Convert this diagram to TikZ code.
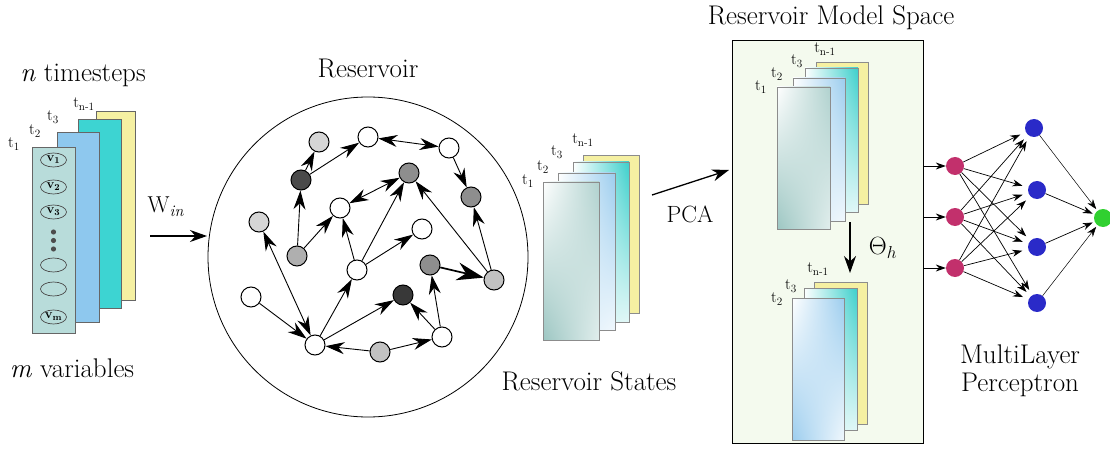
\documentclass[tikz,border=0pt]{standalone}
\usetikzlibrary{arrows.meta,shapes.geometric,shadings}

\definecolor{frontgray}{HTML}{B8DCDA}
\definecolor{skyblue}{HTML}{8EC8EE}
\definecolor{turq}{HTML}{3DD4D2}
\definecolor{paleyel}{HTML}{F5F0A2}
\definecolor{tealgray}{HTML}{9CC6C2}
\definecolor{softblue}{HTML}{9CCDEE}
\definecolor{softturq}{HTML}{3CCFCB}
\definecolor{boxgreen}{HTML}{F4FAEE}
\definecolor{nodedark}{HTML}{4A4A4A}
\definecolor{nodemid}{HTML}{8E8E8E}
\definecolor{nodelight}{HTML}{D6D6D6}
\definecolor{nodesoft}{HTML}{C2C2C2}
\definecolor{inmag}{HTML}{C2306C}
\definecolor{hidblue}{HTML}{2A2AC8}
\definecolor{outgreen}{HTML}{30D030}

\begin{document}
\begin{tikzpicture}[x=1pt,y=-1pt,
  big/.style={font=\fontsize{27}{32}\selectfont, inner sep=0},
  tlab/.style={font=\fontsize{16}{18}\selectfont, inner sep=0},
  sheet/.style={draw=black!60, line width=0.8pt},
  msheet/.style={draw=black!45, line width=0.8pt},
  varell/.style={ellipse, draw=black!70, line width=0.7pt, minimum width=26pt, minimum height=14pt, inner sep=0,
    font=\fontsize{13}{14}\selectfont\bfseries},
  rn/.style={circle, draw=black, line width=1pt, minimum size=20pt, inner sep=0},
  rarr/.style={line width=0.9pt, -{Stealth[length=19pt,width=12pt]}},
  rboth/.style={line width=0.9pt, {Stealth[length=19pt,width=12pt]}-{Stealth[length=19pt,width=12pt]}},
  rbold/.style={line width=1.7pt, -{Stealth[length=27pt,width=18pt]}},
  mainarr/.style={line width=1.3pt, -{Stealth[length=17pt,width=12pt]}},
  neuron/.style={circle, minimum size=18pt, inner sep=0},
  narr/.style={line width=0.7pt, -{Stealth[length=10pt,width=7pt]}, shorten >=2pt},
  nthin/.style={line width=0.5pt, -{Stealth[length=10pt,width=7pt]}, shorten >=2pt}
]
\useasboundingbox (0,0) rectangle (1110,449);

% ---------- input time series stack ----------
\filldraw[sheet, fill=paleyel] (96,111) rectangle (135,300);
\filldraw[sheet, fill=turq] (78,119) rectangle (121,308);
\filldraw[sheet, fill=skyblue] (57,132) rectangle (99,322);
\filldraw[sheet, fill=frontgray] (32,147) rectangle (75,333);
\node[tlab] (lt1) at (14,144) {t\textsubscript{1}};
\node[tlab] (lt2) at (35,131) {t\textsubscript{2}};
\node[tlab] (lt3) at (53,117) {t\textsubscript{3}};
\node[tlab] (ltn) at (84,104) {t\textsubscript{n-1}};
\node[varell] (v1) at (53.5,160) {v\textsubscript{1}};
\node[varell] (v2) at (53.5,187) {v\textsubscript{2}};
\node[varell] (v3) at (53.5,212) {v\textsubscript{3}};
\fill[black!70] (53.5,232) circle (2.6) (53.5,240.5) circle (2.6) (53.5,249) circle (2.6);
\node[varell] (v5) at (53.5,265) {};
\node[varell] (v6) at (53.5,289) {};
\node[varell] (vm) at (53.5,317) {v\textsubscript{m}};
\node[big] (ntime) at (83,75) {\textit{n} timesteps};
\node[big] (mvar) at (72,368) {\textit{m} variables};

% ---------- input weights ----------
\coordinate (winA) at (150,236);
\coordinate (winB) at (207,236);
\draw[mainarr] (winA) -- (winB);
\node[font=\fontsize{23}{27}\selectfont, inner sep=0] (win) at (166,207) {W\textsubscript{\textit{in}}};

% ---------- reservoir ----------
\node[big] (restitle) at (368,68) {Reservoir};
\draw[line width=0.8pt] (368,257) circle (160);
\node[rn, fill=nodelight] (A) at (319,142) {};
\node[rn, fill=white] (B) at (368,137) {};
\node[rn, fill=white] (C) at (449,148) {};
\node[rn, fill=nodedark] (D) at (301,180) {};
\node[rn, fill=nodemid] (E) at (409,173) {};
\node[rn, fill=nodemid] (F) at (471,197) {};
\node[rn, fill=white] (G) at (340,208) {};
\node[rn, fill=nodelight] (H) at (259,222) {};
\node[rn, fill=white] (I) at (422,229) {};
\node[rn, fill=nodesoft!90!black] (J) at (297,256) {};
\node[rn, fill=white] (K) at (357,270) {};
\node[rn, fill=nodemid] (L) at (430,265) {};
\node[rn, fill=nodesoft] (M) at (494,280) {};
\node[rn, fill=white] (N) at (251,297) {};
\node[rn, fill=black!78] (O) at (403,295) {};
\node[rn, fill=white] (P) at (315,345) {};
\node[rn, fill=nodesoft] (Q) at (380,352) {};
\node[rn, fill=white] (R) at (442,337) {};
\draw[rarr] (D) -- (A);
\draw[rarr] (D) -- (B);
\draw[rboth] (B) -- (C);
\draw[rarr] (C) -- (F);
\draw[rarr] (J) -- (D);
\draw[rarr] (J) -- (G);
\draw[rboth] (G) -- (E);
\draw[rarr] (K) -- (G);
\draw[rarr] (K) -- (E);
\draw[rarr] (K) -- (I);
\draw[rarr] (M) -- (E);
\draw[rarr] (M) -- (F);
\draw[rbold] (L) -- (M);
\draw[rboth] (H) -- (P);
\draw[rarr] (N) -- (P);
\draw[rarr] (P) -- (K);
\draw[rarr] (P) -- (O);
\draw[rarr] (Q) -- (P);
\draw[rarr] (Q) -- (R);
\draw[rarr] (R) -- (O);
\draw[rarr] (R) -- (L);

% ---------- reservoir states stack ----------
\filldraw[msheet, fill=paleyel] (583,155) rectangle (639,313);
\shade[upper left=white, upper right=softturq, lower left=softturq!25, lower right=softturq!15] (573,162) rectangle (629,322);
\draw[msheet] (573,162) rectangle (629,322);
\shade[upper left=white, upper right=softblue, lower left=softblue!45, lower right=softblue!15] (558,173) rectangle (615,330);
\draw[msheet] (558,173) rectangle (615,330);
\shade[upper left=white, upper right=tealgray!80, lower left=tealgray, lower right=tealgray!30] (543,182) rectangle (599,340);
\draw[msheet] (543,182) rectangle (599,340);
\node[tlab] (st1) at (528,181) {t\textsubscript{1}};
\node[tlab] (st2) at (543,167) {t\textsubscript{2}};
\node[tlab] (st3) at (557,152) {t\textsubscript{3}};
\node[tlab] (stn) at (583,140) {t\textsubscript{n-1}};
\node[big] (states) at (589,381) {Reservoir States};

% ---------- PCA ----------
\coordinate (pcaA) at (652,195);
\coordinate (pcaB) at (729,170);
\draw[mainarr] (pcaA) -- (pcaB);
\node[font=\fontsize{23.5}{28}\selectfont, inner sep=0] (pca) at (690,214) {PCA};

% ---------- reservoir model space ----------
\node[big] (mstitle) at (831,18) {Reservoir Model Space};
\filldraw[draw=black, line width=0.9pt, fill=boxgreen] (732,40) rectangle (923,443);
% upper stack
\filldraw[msheet, fill=paleyel] (816,62) rectangle (868,204);
\shade[upper left=white, upper right=softturq, lower left=softturq!25, lower right=softturq!15] (805,68) rectangle (858,212);
\draw[msheet] (805,68) rectangle (858,212);
\shade[upper left=white, upper right=softblue, lower left=softblue!45, lower right=softblue!15] (793,78) rectangle (845,221);
\draw[msheet] (793,78) rectangle (845,221);
\shade[upper left=white, upper right=tealgray!80, lower left=tealgray, lower right=tealgray!30] (777,87) rectangle (830,229);
\draw[msheet] (777,87) rectangle (830,229);
\node[tlab] (mt1) at (761,87) {t\textsubscript{1}};
\node[tlab] (mt2) at (777,74) {t\textsubscript{2}};
\node[tlab] (mt3) at (797,61) {t\textsubscript{3}};
\node[tlab] (mtn) at (825,49) {t\textsubscript{n-1}};
% projection
\coordinate (thA) at (850,222);
\coordinate (thB) at (850,273);
\draw[mainarr] (thA) -- (thB);
\node[font=\fontsize{26}{30}\selectfont, inner sep=0] (theta) at (883,248) {$\Theta_h$};
% lower stack
\filldraw[msheet, fill=paleyel] (814,282) rectangle (867,424);
\shade[upper left=white, upper right=softturq, lower left=softturq!25, lower right=softturq!15] (804,288) rectangle (857,430);
\draw[msheet] (804,288) rectangle (857,430);
\shade[upper left=white, upper right=softblue, lower left=softblue, lower right=softblue!15] (792,298) rectangle (844,440);
\draw[msheet] (792,298) rectangle (844,440);
\node[tlab] (bt2) at (777,299) {t\textsubscript{2}};
\node[tlab] (bt3) at (791,286) {t\textsubscript{3}};
\node[tlab] (btn) at (818,269) {t\textsubscript{n-1}};

% ---------- multilayer perceptron ----------
\node[neuron, fill=inmag] (i1) at (955,166) {};
\node[neuron, fill=inmag] (i2) at (955,217) {};
\node[neuron, fill=inmag] (i3) at (955,268) {};
\node[neuron, fill=hidblue] (h1) at (1034,128) {};
\node[neuron, fill=hidblue] (h2) at (1037,190) {};
\node[neuron, fill=hidblue] (h3) at (1037,247) {};
\node[neuron, fill=hidblue] (h4) at (1037,303) {};
\node[neuron, fill=outgreen] (o) at (1103,218) {};
\coordinate (x1) at (924,166);
\coordinate (x2) at (924,217);
\coordinate (x3) at (924,268);
\foreach \k in {1,2,3} {
  \draw[line width=0.9pt, -{Stealth[length=10pt,width=7pt]}] (x\k) -- (i\k);
  \foreach \j in {1,2,3,4} {
    \draw[narr, shorten >=6pt] (i\k) -- (h\j);
  }
}
\foreach \j in {1,4} {\draw[nthin] (h\j) -- (o);}
\foreach \j in {2,3} {\draw[narr] (h\j) -- (o);}
\node[big] (mlp1) at (1020,357) {MultiLayer};
\node[big] (mlp2) at (1020,385) {Perceptron};
\end{tikzpicture}
\end{document}
